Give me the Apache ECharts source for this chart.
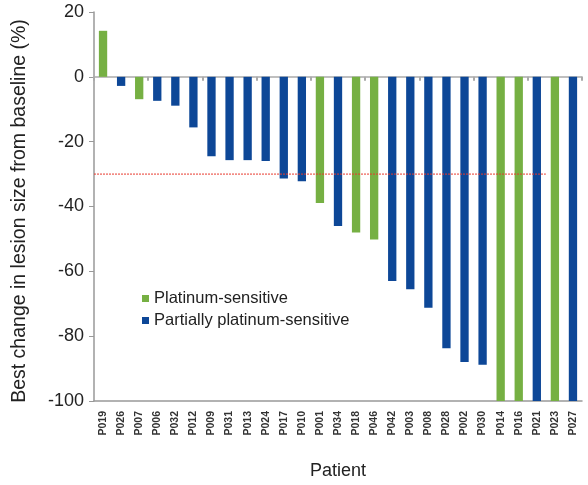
<!DOCTYPE html>
<html><head><meta charset="utf-8">
<script src="https://cdn.jsdelivr.net/npm/echarts@6/dist/echarts.min.js"></script>
<style>html,body{margin:0;padding:0;background:#fff}#c{width:588px;height:485px}</style>
</head><body><div id="c"></div>
<script>
const patients = ['P019','P026','P007','P006','P032','P012','P009','P031','P013','P024','P017','P010','P001','P034','P018','P046','P042','P003','P008','P028','P002','P030','P014','P016','P021','P023','P027'];
const bestChange = [14.2,-2.8,-6.9,-7.4,-8.9,-15.6,-24.5,-25.7,-25.7,-26,-31.4,-32.2,-38.9,-46,-48,-50.2,-63,-65.5,-71.2,-83.7,-88,-88.8,-100,-100,-100,-100,-100];
const group = ['S','P','S','P','P','P','P','P','P','P','P','P','S','P','S','S','P','P','P','P','P','P','S','S','P','S','P'];
const seriesNames = ['Platinum-sensitive','Partially platinum-sensitive'];
const yTicks = [-100,-80,-60,-40,-20,0,20];
const threshold = -30;
const thresholdSpan = [0,25];

const green = '#76b043', blue = '#0d4797';
const sensData = bestChange.map((v,i)=> group[i]==='S' ? v : null);
const partData = bestChange.map((v,i)=> group[i]==='P' ? v : null);
const font = '"Liberation Sans", Arial, sans-serif';

const chart = echarts.init(document.getElementById('c'));
chart.setOption({
  animation:false,
  grid:{left:94,right:6,top:12,bottom:83},
  legend:{orient:'vertical',left:137,top:285,itemWidth:7,itemHeight:7,itemGap:5,icon:'rect',
    textStyle:{fontFamily:font,fontSize:16.5,color:'#222',lineHeight:17},
    data:seriesNames},
  xAxis:[
    {type:'category',data:patients,position:'bottom',
     axisLine:{onZero:false,lineStyle:{color:'#999',width:1.5}},axisTick:{show:false},
     axisLabel:{rotate:90,fontFamily:font,fontSize:10.5,color:'#333',fontWeight:'bold',margin:10,interval:0},
     name:'Patient',nameLocation:'middle',nameGap:61,
     nameTextStyle:{fontFamily:font,fontSize:18,color:'#222'}},
    {type:'category',data:patients,
     axisLine:{onZero:true,lineStyle:{color:'#aaa',width:1.5}},
     axisTick:{show:true,inside:true,length:4,lineStyle:{color:'#aaa',width:2}},
     axisLabel:{show:false}},
    {type:'value',min:0,max:patients.length,show:false}
  ],
  yAxis:{type:'value',min:yTicks[0],max:yTicks[yTicks.length-1],interval:20,
    axisLine:{show:true,lineStyle:{color:'#999',width:1.5}},
    axisTick:{show:true,length:5,lineStyle:{color:'#999'}},
    splitLine:{show:false},
    axisLabel:{fontFamily:font,fontSize:18,color:'#222',margin:10},
    name:'Best change in lesion size from baseline (%)',nameLocation:'middle',nameGap:64,
    nameTextStyle:{fontFamily:font,fontSize:19.5,color:'#222',padding:[0,9,0,0]}},
  series:[
    {name:seriesNames[0],type:'bar',xAxisIndex:0,data:sensData,barWidth:'46%',barGap:'-100%',itemStyle:{color:green}},
    {name:seriesNames[1],type:'bar',xAxisIndex:0,data:partData,barWidth:'46%',barGap:'-100%',itemStyle:{color:blue}},
    {type:'line',xAxisIndex:2,data:[[thresholdSpan[0],threshold],[thresholdSpan[1],threshold]],symbol:'none',
     lineStyle:{color:'#e8392e',width:1,type:[2,1]},silent:true,z:5}
  ]
});
</script></body></html>
